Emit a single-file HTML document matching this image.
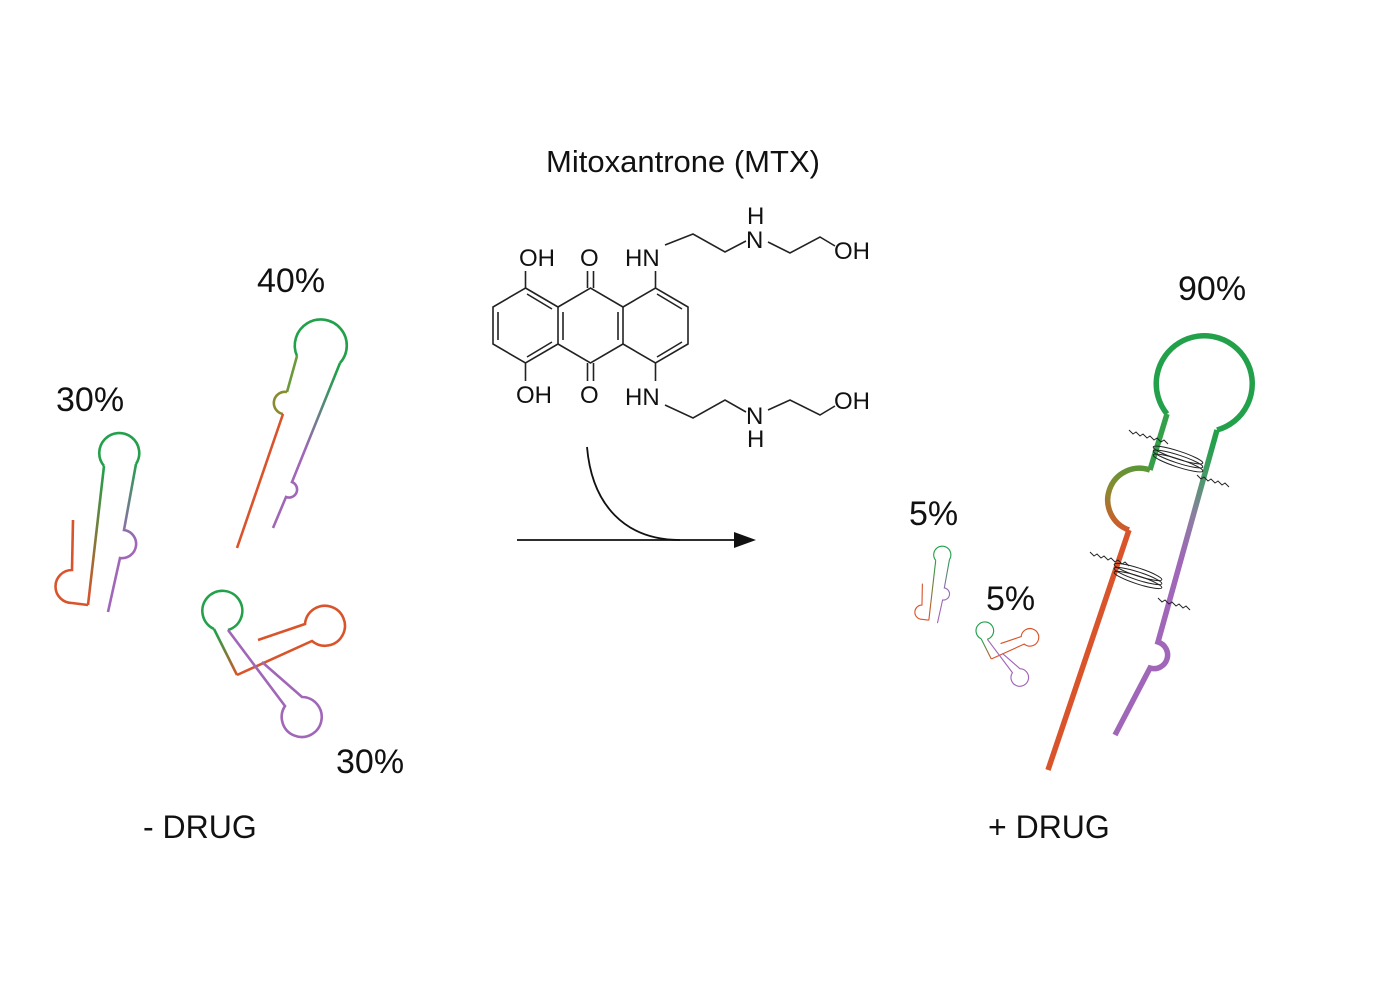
<!DOCTYPE html>
<html><head><meta charset="utf-8"><style>
html,body{margin:0;padding:0;background:#fff;}
svg{display:block;}
text{font-family:"Liberation Sans",Arial,sans-serif;fill:#111;}
</style></head><body>
<svg width="1380" height="986" viewBox="0 0 1380 986" xmlns="http://www.w3.org/2000/svg">
<defs>
<linearGradient id="gOr" gradientUnits="userSpaceOnUse" x1="110" y1="470" x2="88" y2="600"><stop offset="0" stop-color="#22a04a"/><stop offset="1" stop-color="#d9542a"/></linearGradient>
<linearGradient id="gPu" gradientUnits="userSpaceOnUse" x1="138" y1="460" x2="120" y2="540"><stop offset="0" stop-color="#22a04a"/><stop offset="1" stop-color="#a066b8"/></linearGradient>
<linearGradient id="gPu2" gradientUnits="userSpaceOnUse" x1="330" y1="370" x2="300" y2="450"><stop offset="0" stop-color="#22a04a"/><stop offset="1" stop-color="#a066b8"/></linearGradient>
<linearGradient id="gOr3" gradientUnits="userSpaceOnUse" x1="225" y1="630" x2="240" y2="675"><stop offset="0" stop-color="#22a04a"/><stop offset="1" stop-color="#d9542a"/></linearGradient>
<linearGradient id="gBig" gradientUnits="userSpaceOnUse" x1="1210" y1="440" x2="1170" y2="560"><stop offset="0" stop-color="#22a04a"/><stop offset="0.3" stop-color="#4a9a6a"/><stop offset="0.6" stop-color="#8a7fa0"/><stop offset="1" stop-color="#a066b8"/></linearGradient>
<linearGradient id="gBigL" gradientUnits="userSpaceOnUse" x1="1150" y1="460" x2="1128" y2="535"><stop offset="0" stop-color="#4a9a3a"/><stop offset="0.5" stop-color="#8a8a30"/><stop offset="1" stop-color="#d9542a"/></linearGradient>
<g id="s1" fill="none" stroke-width="2.6">
  <path d="M104,466 A20,20 0 1 1 136,464" stroke="#22a04a"/>
  <path d="M104,466 L88,605" stroke="url(#gOr)"/>
  <path d="M88,605 L72,603 A15,15 0 0 1 72,570 L73,520" stroke="#d9542a"/>
  <path d="M136,464 L124,530 A12,12 0 0 1 120,558 L108,612" stroke="url(#gPu)"/>
</g>
<g id="s3" fill="none" stroke-width="2.6">
  <path d="M228,630 A20,20 0 1 0 214,629" stroke="#22a04a"/>
  <path d="M214,629 L237,675" stroke="url(#gOr3)"/>
  <path d="M237,675 L312,641 A20,20 0 1 0 305,624 L258,640" stroke="#d9542a"/>
  <path d="M228,630 L285,706 A20,20 0 1 0 302,697 L262,662" stroke="#a066b8"/>
</g>
</defs>

<text x="683" y="172" font-size="31" text-anchor="middle">Mitoxantrone (MTX)</text>

<g stroke="#222" stroke-width="1.6" fill="none">
  <path d="M525.5,288 L558,307 L558,344 L525.5,363 L493,344 L493,307 Z"/>
  <path d="M558,307 L590.5,288 L623,307 L623,344 L590.5,363 L558,344"/>
  <path d="M623,307 L655.5,288 L688,307 L688,344 L655.5,363 L623,344"/>
  <path d="M498,312 L498,340 M527,294 L552,309 M527,357 L552,342 M563,312 L563,340"/>
  <path d="M618,312 L618,340 M657,294 L682,309 M657,357 L682,342"/>
  <path d="M525.5,288 L525.5,271 M525.5,363 L525.5,381"/>
  <path d="M587.5,288 L587.5,271 M593.5,288 L593.5,271 M587.5,363 L587.5,381 M593.5,363 L593.5,381"/>
  <path d="M655.5,288 L655.5,271 M655.5,363 L655.5,381"/>
  <path d="M665,245 L693,234 L725,252 L746,241 M768,242 L790,253 L820,237 L835,246"/>
  <path d="M665,405 L693,418 L725,400 L746,412 M768,410 L790,400 L820,415 L835,406"/>
</g>
<g font-size="24">
  <text x="519" y="266">OH</text>
  <text x="580" y="266">O</text>
  <text x="625" y="266">HN</text>
  <text x="746" y="248">N</text>
  <text x="747" y="224">H</text>
  <text x="834" y="259">OH</text>
  <text x="516" y="403">OH</text>
  <text x="580" y="403">O</text>
  <text x="625" y="405">HN</text>
  <text x="746" y="424">N</text>
  <text x="747" y="447">H</text>
  <text x="834" y="409">OH</text>
</g>

<g stroke="#111" stroke-width="1.8" fill="none">
  <path d="M587,447 C592,505 625,540 680,540"/>
  <path d="M517,540 L738,540"/>
</g>
<path d="M756,540 L734,532 L734,548 Z" fill="#111"/>

<use href="#s1"/>
<g fill="none" stroke-width="2.6">
  <path d="M297,356 A26,26 0 1 1 340,363" stroke="#22a04a"/>
  <path d="M297,356 L287,392" stroke="#6a9a3a"/>
  <path d="M287,392 A11,11 0 0 0 283,414" stroke="#8a8a30"/>
  <path d="M283,414 L237,548" stroke="#d9542a"/>
  <path d="M340,363 L292,482 A8,8 0 0 1 286,497 L273,528" stroke="url(#gPu2)"/>
</g>
<use href="#s3"/>

<use href="#s1" transform="translate(891,360) scale(0.43)"/>
<use href="#s3" transform="translate(887,362) scale(0.44)"/>

<g fill="none" stroke-width="5.5">
  <path d="M1167,414 A48,48 0 1 1 1217,430" stroke="#22a04a"/>
  <path d="M1167,414 L1150,470" stroke="#35a04a"/>
  <path d="M1150,470 A30,30 0 0 0 1129,530" stroke="url(#gBigL)"/>
  <path d="M1129,530 L1048,770" stroke="#d9542a"/>
  <path d="M1217,430 L1158,642 A12,12 0 0 1 1150,668 L1115,735" stroke="url(#gBig)"/>
</g>
<g fill="none" stroke="#222" stroke-width="1">
  <path d="M1129,430 l4,4 l3,-2 l4,4 l3,-2 l4,4 l3,-2 l4,4 l3,-2 l4,4 l3,-2 l4,4"/>
  <path d="M1197,475 l4,4 l3,-2 l4,4 l3,-2 l4,4 l3,-2 l4,4 l3,-2 l4,4"/>
  <ellipse cx="1178" cy="455" rx="26" ry="4" transform="rotate(18 1178 455)"/>
  <ellipse cx="1178" cy="459" rx="26" ry="4" transform="rotate(18 1178 459)"/>
  <ellipse cx="1178" cy="463" rx="26" ry="4" transform="rotate(18 1178 463)"/>
  <path d="M1090,552 l4,4 l3,-2 l4,4 l3,-2 l4,4 l3,-2 l4,4 l3,-2 l4,4 l3,-2 l4,4"/>
  <path d="M1158,598 l4,4 l3,-2 l4,4 l3,-2 l4,4 l3,-2 l4,4 l3,-2 l4,4"/>
  <ellipse cx="1138" cy="572" rx="25" ry="4" transform="rotate(18 1138 572)"/>
  <ellipse cx="1138" cy="576" rx="25" ry="4" transform="rotate(18 1138 576)"/>
  <ellipse cx="1138" cy="580" rx="25" ry="4" transform="rotate(18 1138 580)"/>
</g>

<g font-size="34">
  <text x="56" y="411">30%</text>
  <text x="257" y="292">40%</text>
  <text x="336" y="773">30%</text>
  <text x="1178" y="300">90%</text>
  <text x="909" y="525">5%</text>
  <text x="986" y="610">5%</text>
</g>
<g font-size="32">
  <text x="143" y="838">- DRUG</text>
  <text x="988" y="838">+ DRUG</text>
</g>
</svg>
</body></html>
